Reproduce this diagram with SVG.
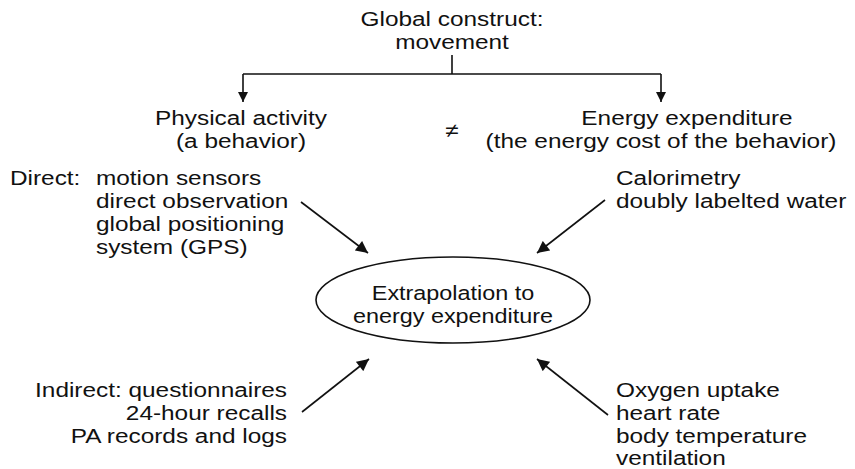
<svg xmlns="http://www.w3.org/2000/svg" width="855" height="469" viewBox="0 0 855 469">
<style>
text{font-family:"Liberation Sans",Arial,sans-serif;font-size:19.5px;fill:#111}
.m{text-anchor:middle}
.e{text-anchor:end}
.ln{stroke:#111;stroke-width:1.6;fill:none}
</style>
<defs>
<marker id="ah" viewBox="0 0 10 10" refX="10" refY="5" markerWidth="10" markerHeight="10" markerUnits="userSpaceOnUse" orient="auto">
<path d="M0,0 L10,5 L0,10 z" fill="#111"/>
</marker>
<marker id="ah2" viewBox="0 0 10 10" refX="10" refY="5" markerWidth="13" markerHeight="12" markerUnits="userSpaceOnUse" orient="auto">
<path d="M0,0 L10,5 L0,10 z" fill="#111"/>
</marker>
</defs>
<rect width="855" height="469" fill="#fff"/>
<g id="connectors">
<path class="ln" d="M452,55 V74 M243,74 H661"/>
<path class="ln" d="M243,74 V102" marker-end="url(#ah)"/>
<path class="ln" d="M661,74 V102" marker-end="url(#ah)"/>
<path class="ln" d="M301,202 L368,253" marker-end="url(#ah2)"/>
<path class="ln" d="M605,200 L537,253" marker-end="url(#ah2)"/>
<path class="ln" d="M302,412 L369,359" marker-end="url(#ah2)"/>
<path class="ln" d="M608,415 L537,359" marker-end="url(#ah2)"/>
</g>
<g id="global">
<g transform="translate(452,26) scale(1.25,1)"><text class="m">Global construct:</text></g>
<g transform="translate(452,49) scale(1.25,1)"><text class="m">movement</text></g>
</g>
<g id="physical-activity">
<g transform="translate(241,125) scale(1.25,1)"><text class="m">Physical activity</text></g>
<g transform="translate(241,148) scale(1.25,1)"><text class="m">(a behavior)</text></g>
</g>
<g id="not-equal">
<g transform="translate(452,137) scale(1.25,1)"><text class="m">≠</text></g>
</g>
<g id="energy-expenditure">
<g transform="translate(687,125) scale(1.25,1)"><text class="m">Energy expenditure</text></g>
<g transform="translate(661,148) scale(1.25,1)"><text class="m">(the energy cost of the behavior)</text></g>
</g>
<g id="direct">
<g transform="translate(10,185) scale(1.25,1)"><text>Direct:</text></g>
<g transform="translate(96,185) scale(1.25,1)"><text>motion sensors</text></g>
<g transform="translate(96,208) scale(1.25,1)"><text>direct observation</text></g>
<g transform="translate(96,231) scale(1.25,1)"><text>global positioning</text></g>
<g transform="translate(96,254) scale(1.25,1)"><text>system (GPS)</text></g>
</g>
<g id="calorimetry">
<g transform="translate(616,185) scale(1.25,1)"><text>Calorimetry</text></g>
<g transform="translate(616,208) scale(1.25,1)"><text>doubly labelted water</text></g>
</g>
<g id="extrapolation">
<ellipse class="ln" cx="453" cy="300" rx="137" ry="43"/>
<g transform="translate(453,300) scale(1.2,1)"><text class="m">Extrapolation to</text></g>
<g transform="translate(453,323) scale(1.2,1)"><text class="m">energy expenditure</text></g>
</g>
<g id="indirect">
<g transform="translate(287,397) scale(1.25,1)"><text class="e">Indirect: questionnaires</text></g>
<g transform="translate(287,420) scale(1.25,1)"><text class="e">24-hour recalls</text></g>
<g transform="translate(287,443) scale(1.25,1)"><text class="e">PA records and logs</text></g>
</g>
<g id="physiological">
<g transform="translate(616,397) scale(1.25,1)"><text>Oxygen uptake</text></g>
<g transform="translate(616,420) scale(1.25,1)"><text>heart rate</text></g>
<g transform="translate(616,443) scale(1.25,1)"><text>body temperature</text></g>
<g transform="translate(616,465) scale(1.25,1)"><text>ventilation</text></g>
</g>
</svg>
